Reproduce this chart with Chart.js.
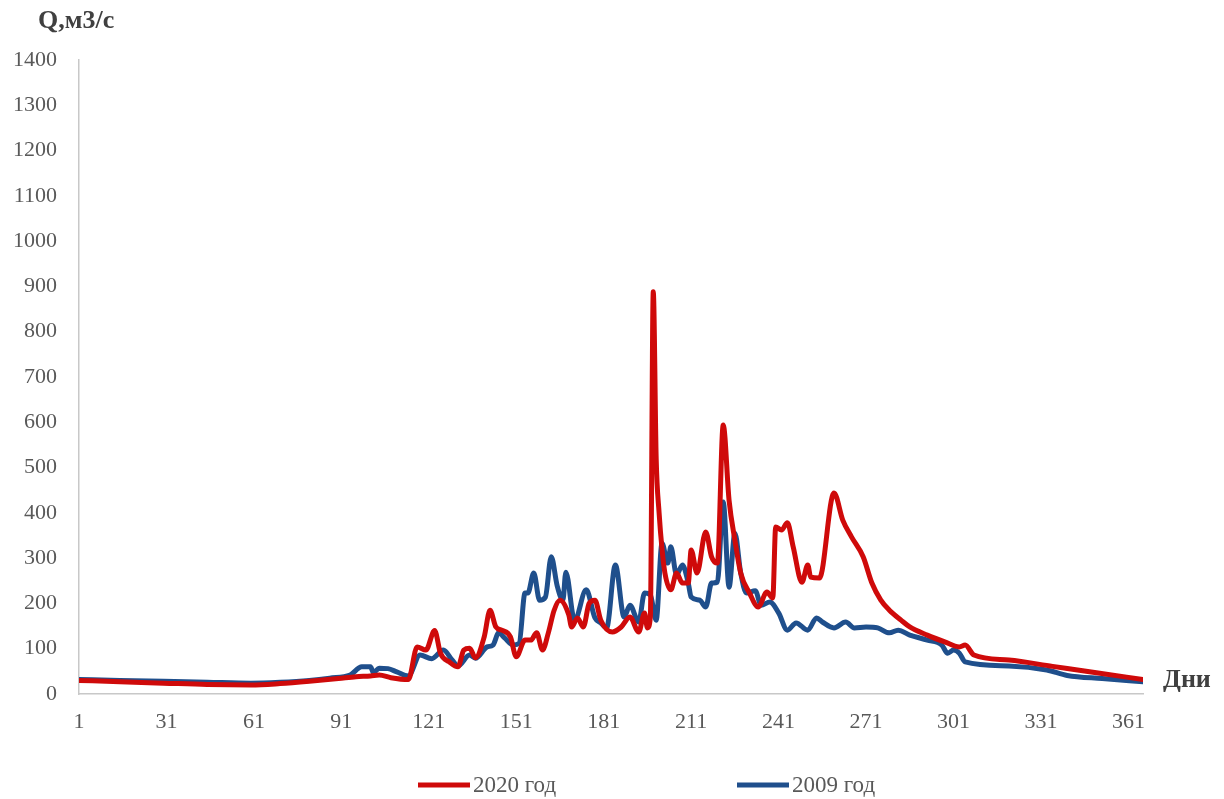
<!DOCTYPE html>
<html lang="ru">
<head>
<meta charset="utf-8">
<title>Расход воды, м3/с</title>
<script src="https://cdn.jsdelivr.net/npm/chart.js@4/dist/chart.umd.min.js"></script>
<style>
  html, body { margin: 0; padding: 0; background: #ffffff; }
  #wrap { width: 1224px; height: 799px; position: relative; }
</style>
</head>
<body>
<div id="wrap"><canvas id="chart" width="1224" height="799"></canvas></div>
<script>
// Daily discharge, m3/s (day of year -> value)
const days2020 = [1, 15, 30, 45, 60, 70, 80, 90, 96, 101, 104, 108, 114, 117, 120, 123, 125, 128, 131, 133, 135, 137, 140, 142, 144, 146, 149, 151, 154, 156, 158, 160, 162, 164, 166, 169, 170, 172, 174, 176, 178, 180, 184, 187, 190, 193, 195, 196, 197, 198, 199, 200, 201, 202, 204, 206, 208, 210, 211, 213, 216, 218, 220, 222, 224, 226, 228, 231, 234, 237, 239, 240, 242, 244, 246, 249, 251, 252, 255, 260, 263, 266, 270, 273, 276, 279, 283, 286, 292, 298, 303, 305, 308, 320, 335, 350, 366];
const q2020 = [30, 27, 24, 21, 20, 23, 28, 34, 38, 40, 42, 36, 32, 104, 97, 140, 90, 71, 60, 97, 101, 80, 126, 185, 148, 141, 126, 82, 119, 119, 135, 97, 135, 185, 207, 175, 148, 168, 148, 200, 207, 163, 137, 148, 170, 137, 179, 146, 170, 888, 520, 400, 320, 267, 230, 267, 245, 245, 318, 267, 358, 303, 289, 594, 428, 340, 267, 223, 192, 225, 212, 369, 362, 378, 325, 247, 285, 258, 256, 444, 384, 347, 303, 245, 208, 185, 163, 148, 130, 115, 104, 108, 86, 75, 61, 47, 32];

const days2009 = [1, 15, 30, 45, 60, 70, 80, 87, 94, 98, 101, 102, 104, 107, 110, 114, 118, 122, 126, 129, 131, 135, 137, 141, 143, 145, 147, 150, 152, 154, 155, 157, 159, 161, 163, 165, 167, 168, 171, 175, 178, 180, 182, 185, 188, 190, 193, 195, 197, 199, 201, 203, 204, 206, 208, 210, 211, 214, 216, 218, 220, 222, 224, 226, 228, 230, 233, 235, 238, 241, 244, 247, 251, 254, 256, 260, 264, 267, 271, 275, 279, 282, 286, 292, 297, 299, 301, 303, 305, 320, 333, 340, 352, 366];
const q2009 = [32, 30, 28, 26, 24, 26, 30, 35, 42, 60, 60, 47, 57, 56, 49, 40, 86, 78, 97, 75, 62, 86, 79, 104, 108, 135, 124, 108, 112, 223, 223, 267, 207, 214, 303, 240, 207, 269, 163, 230, 168, 157, 146, 285, 170, 196, 159, 223, 219, 163, 333, 289, 325, 263, 285, 245, 214, 207, 192, 245, 247, 424, 236, 355, 267, 223, 228, 196, 203, 179, 141, 157, 141, 168, 159, 146, 159, 146, 148, 146, 135, 141, 130, 119, 108, 90, 97, 90, 71, 62, 53, 41, 34, 27];

const seriesNames = ['2020 год', '2009 год'];
const seriesColors = ['#cf0a0a', '#1f4f8c'];
const xTickDays = [1, 31, 61, 91, 121, 151, 181, 211, 241, 271, 301, 331, 361];
const yTitle = 'Q,м3/с';
const xTitle = 'Дни';

const toPoints = (xs, ys) => xs.map((d, i) => ({ x: d, y: ys[i] }));

const serif = "'Liberation Serif', 'Times New Roman', serif";
const tickColor = '#595959';

// Axis captions: flow units above the value axis, "days" at the end of the day axis
const axisCaptions = {
  id: 'axisCaptions',
  afterDraw(chart) {
    const { ctx, chartArea } = chart;
    ctx.save();
    ctx.fillStyle = '#404040';
    ctx.textBaseline = 'middle';
    ctx.textAlign = 'left';
    ctx.font = 'bold 26px ' + serif;
    ctx.fillText(yTitle, 38, 21);
    ctx.fillText(xTitle, chartArea.right + 20, chartArea.bottom - 14);
    ctx.restore();
  }
};

// Legend row under the chart: line sample followed by series name
const lineLegend = {
  id: 'lineLegend',
  afterDraw(chart) {
    const { ctx } = chart;
    const startX = 418, itemStep = 319, y = 785, sample = 52;
    ctx.save();
    ctx.font = '23px ' + serif;
    ctx.textBaseline = 'middle';
    ctx.textAlign = 'left';
    chart.data.datasets.forEach((ds, i) => {
      const x0 = startX + i * itemStep;
      ctx.strokeStyle = ds.borderColor;
      ctx.lineWidth = 5;
      ctx.lineCap = 'butt';
      ctx.beginPath();
      ctx.moveTo(x0, y);
      ctx.lineTo(x0 + sample, y);
      ctx.stroke();
      ctx.fillStyle = tickColor;
      ctx.fillText(ds.label, x0 + sample + 3, y + 1);
    });
    ctx.restore();
  }
};

const lineStyle = {
  borderWidth: 5,
  pointRadius: 0,
  cubicInterpolationMode: 'monotone',
  borderJoinStyle: 'round',
  borderCapStyle: 'round'
};

new Chart(document.getElementById('chart'), {
  type: 'line',
  data: {
    datasets: [
      Object.assign({
        label: seriesNames[0],
        data: toPoints(days2020, q2020),
        borderColor: seriesColors[0],
        backgroundColor: seriesColors[0]
      }, lineStyle),
      Object.assign({
        label: seriesNames[1],
        data: toPoints(days2009, q2009),
        borderColor: seriesColors[1],
        backgroundColor: seriesColors[1]
      }, lineStyle)
    ]
  },
  options: {
    responsive: false,
    animation: false,
    events: [],
    layout: { padding: { top: 60, right: 81, bottom: 60, left: 0 } },
    plugins: {
      legend: { display: false },
      tooltip: { enabled: false },
      title: { display: false }
    },
    scales: {
      x: {
        type: 'linear',
        min: 1,
        max: 366,
        afterBuildTicks(scale) {
          scale.ticks = xTickDays.map(v => ({ value: v }));
        },
        afterFit(scale) { scale.height = 45; },
        grid: { display: false, drawTicks: false },
        border: { display: true, color: '#c8c8c8', width: 1.5 },
        ticks: {
          autoSkip: false,
          maxRotation: 0,
          padding: 15,
          color: tickColor,
          font: { family: serif, size: 22 },
          callback: v => String(v)
        }
      },
      y: {
        min: 0,
        max: 1400,
        afterFit(scale) { scale.width = 79; },
        grid: { display: false, drawTicks: false },
        border: { display: true, color: '#c8c8c8', width: 1.5 },
        ticks: {
          stepSize: 100,
          padding: 22,
          color: tickColor,
          font: { family: serif, size: 22 },
          callback: v => String(v)
        }
      }
    }
  },
  plugins: [axisCaptions, lineLegend]
});
</script>
</body>
</html>
